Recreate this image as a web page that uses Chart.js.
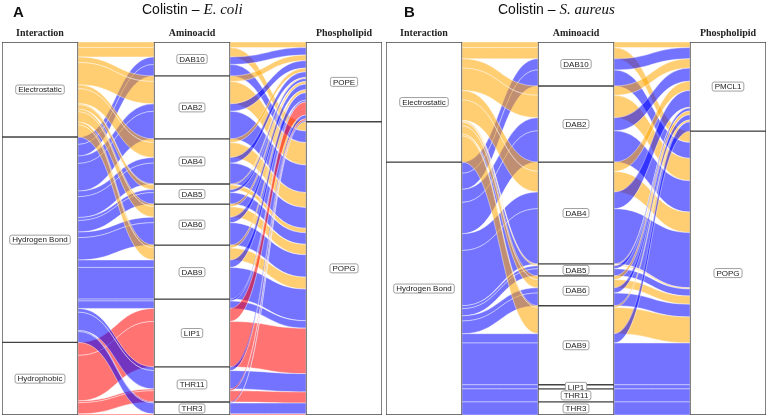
<!DOCTYPE html>
<html>
<head>
<meta charset="utf-8">
<title>Colistin alluvial</title>
<script src="https://cdn.jsdelivr.net/npm/chart.js@4.4.1/dist/chart.umd.min.js"></script>
<style>
  html, body { margin: 0; padding: 0; background: #fff; }
  #wrap { position: relative; width: 768px; height: 418px; overflow: hidden; }
  .panel { position: absolute; top: 0; width: 384px; height: 418px; }
  .letter { position: absolute; top: 3px; font: bold 15px "Liberation Sans", Arial, sans-serif; color: #111; }
  .title { position: absolute; top: 1px; font: 14px "Liberation Sans", Arial, sans-serif; color: #111; white-space: nowrap; }
  .title i { font-family: "Liberation Serif", "Times New Roman", serif; font-size: 15px; }
</style>
</head>
<body>
<div id="wrap">
  <div class="panel" style="left:0"><canvas id="chartA"></canvas></div>
  <div class="panel" style="left:384px"><canvas id="chartB"></canvas></div>
  <div class="letter" style="left:13px">A</div>
  <div class="title" style="left:142px">Colistin – <i>E. coli</i></div>
  <div class="letter" style="left:404px">B</div>
  <div class="title" style="left:498px">Colistin – <i>S. aureus</i></div>
</div>
<script>
const axisNames = ['Interaction', 'Aminoacid', 'Phospholipid'];

// Panel A - E. coli
const ecoliInteractions = ['Electrostatic', 'Hydrogen Bond', 'Hydrophobic'];
const ecoliAminoacids = ['DAB10', 'DAB2', 'DAB4', 'DAB5', 'DAB6', 'DAB9', 'LIP1', 'THR11', 'THR3'];
const ecoliLipids = ['POPE', 'POPG'];
// [interaction, aminoacid, phospholipid, share %]
const ecoliFlows = [
  ['Electrostatic', 'DAB10', 'POPE', 1.5], ['Electrostatic', 'DAB10', 'POPG', 2.5],
  ['Hydrogen Bond', 'DAB10', 'POPE', 2.0], ['Hydrogen Bond', 'DAB10', 'POPG', 3.1],
  ['Electrostatic', 'DAB2', 'POPE', 1.5], ['Electrostatic', 'DAB2', 'POPG', 6.0],
  ['Hydrogen Bond', 'DAB2', 'POPE', 2.0], ['Hydrogen Bond', 'DAB2', 'POPG', 7.4],
  ['Electrostatic', 'DAB4', 'POPE', 1.0], ['Electrostatic', 'DAB4', 'POPG', 4.0],
  ['Hydrogen Bond', 'DAB4', 'POPE', 1.5], ['Hydrogen Bond', 'DAB4', 'POPG', 5.6],
  ['Electrostatic', 'DAB5', 'POPE', 0.3], ['Electrostatic', 'DAB5', 'POPG', 1.2],
  ['Hydrogen Bond', 'DAB5', 'POPE', 0.8], ['Hydrogen Bond', 'DAB5', 'POPG', 3.1],
  ['Electrostatic', 'DAB6', 'POPE', 0.7], ['Electrostatic', 'DAB6', 'POPG', 2.8],
  ['Hydrogen Bond', 'DAB6', 'POPE', 1.5], ['Hydrogen Bond', 'DAB6', 'POPG', 6.0],
  ['Electrostatic', 'DAB9', 'POPE', 0.8], ['Electrostatic', 'DAB9', 'POPG', 3.2],
  ['Hydrogen Bond', 'DAB9', 'POPE', 2.0], ['Hydrogen Bond', 'DAB9', 'POPG', 8.5],
  ['Hydrogen Bond', 'LIP1', 'POPE', 0.5], ['Hydrogen Bond', 'LIP1', 'POPG', 2.0],
  ['Hydrophobic', 'LIP1', 'POPE', 3.5], ['Hydrophobic', 'LIP1', 'POPG', 12.2],
  ['Hydrogen Bond', 'THR11', 'POPE', 1.0], ['Hydrogen Bond', 'THR11', 'POPG', 4.9],
  ['Hydrophobic', 'THR11', 'POPE', 0.5], ['Hydrophobic', 'THR11', 'POPG', 3.0],
  ['Hydrogen Bond', 'THR3', 'POPE', 0.3], ['Hydrogen Bond', 'THR3', 'POPG', 2.9],
  ['Hydrophobic', 'THR3', 'POPG', 0.3]
];

// Panel B - S. aureus
const saureusInteractions = ['Electrostatic', 'Hydrogen Bond'];
const saureusAminoacids = ['DAB10', 'DAB2', 'DAB4', 'DAB5', 'DAB6', 'DAB9', 'LIP1', 'THR11', 'THR3'];
const saureusLipids = ['PMCL1', 'POPG'];
const saureusFlows = [
  ['Electrostatic', 'DAB10', 'PMCL1', 1.5], ['Electrostatic', 'DAB10', 'POPG', 3.0],
  ['Hydrogen Bond', 'DAB10', 'PMCL1', 3.0], ['Hydrogen Bond', 'DAB10', 'POPG', 4.3],
  ['Electrostatic', 'DAB2', 'PMCL1', 2.5], ['Electrostatic', 'DAB2', 'POPG', 6.0],
  ['Hydrogen Bond', 'DAB2', 'PMCL1', 3.5], ['Hydrogen Bond', 'DAB2', 'POPG', 8.4],
  ['Electrostatic', 'DAB4', 'PMCL1', 2.5], ['Electrostatic', 'DAB4', 'POPG', 5.5],
  ['Hydrogen Bond', 'DAB4', 'PMCL1', 4.5], ['Hydrogen Bond', 'DAB4', 'POPG', 14.8],
  ['Electrostatic', 'DAB5', 'PMCL1', 0.2], ['Electrostatic', 'DAB5', 'POPG', 0.3],
  ['Hydrogen Bond', 'DAB5', 'PMCL1', 0.8], ['Hydrogen Bond', 'DAB5', 'POPG', 1.9],
  ['Electrostatic', 'DAB6', 'PMCL1', 1.0], ['Electrostatic', 'DAB6', 'POPG', 2.2],
  ['Hydrogen Bond', 'DAB6', 'PMCL1', 1.4], ['Hydrogen Bond', 'DAB6', 'POPG', 3.4],
  ['Electrostatic', 'DAB9', 'PMCL1', 0.5], ['Electrostatic', 'DAB9', 'POPG', 7.0],
  ['Hydrogen Bond', 'DAB9', 'PMCL1', 2.5], ['Hydrogen Bond', 'DAB9', 'POPG', 11.2],
  ['Hydrogen Bond', 'LIP1', 'POPG', 1.1],
  ['Hydrogen Bond', 'THR11', 'POPG', 3.5],
  ['Hydrogen Bond', 'THR3', 'POPG', 3.5]
];

const interactionColors = {
  'Electrostatic': 'rgba(255,165,0,0.55)',
  'Hydrogen Bond': 'rgba(0,0,255,0.55)',
  'Hydrophobic': 'rgba(255,0,0,0.55)'
};

const BOX_W = 76;

// alluvium ribbons, drawn under the stratum boxes
const alluviaPlugin = {
  id: 'alluvia',
  beforeDatasetsDraw(chart, args, opts) {
    const { ctx, scales: { x, y } } = chart;
    const levels = opts.levels;
    const flows = opts.flows;
    const idx = (a, name) => levels[a].indexOf(name);
    // zigzag lode ordering: nearest other axis first
    const order = [[1, 2], [0, 2], [1, 0]];
    const pos = flows.map(() => [0, 0, 0]);
    for (let a = 0; a < 3; a++) {
      let start = 0;
      levels[a].forEach(name => {
        const members = flows.map((f, i) => i).filter(i => flows[i][a] === name);
        members.sort((i, j) => {
          for (const o of order[a]) {
            const d = idx(o, flows[i][o]) - idx(o, flows[j][o]);
            if (d) return d;
          }
          return 0;
        });
        members.forEach(i => { pos[i][a] = start; start += flows[i][3]; });
      });
    }
    ctx.save();
    flows.forEach((f, i) => {
      for (let a = 0; a < 2; a++) {
        const x0 = x.getPixelForValue(a) + BOX_W / 2;
        const x1 = x.getPixelForValue(a + 1) - BOX_W / 2;
        const xm = (x0 + x1) / 2;
        const t0 = y.getPixelForValue(pos[i][a]);
        const b0 = y.getPixelForValue(pos[i][a] + f[3]);
        const t1 = y.getPixelForValue(pos[i][a + 1]);
        const b1 = y.getPixelForValue(pos[i][a + 1] + f[3]);
        ctx.beginPath();
        ctx.moveTo(x0, t0);
        ctx.bezierCurveTo(xm, t0, xm, t1, x1, t1);
        ctx.lineTo(x1, b1);
        ctx.bezierCurveTo(xm, b1, xm, b0, x0, b0);
        ctx.closePath();
        ctx.fillStyle = interactionColors[f[0]];
        ctx.fill();
        ctx.lineWidth = 0.6;
        ctx.strokeStyle = 'rgba(255,255,255,0.7)';
        ctx.stroke();
      }
    });
    ctx.restore();
  },
  afterDatasetsDraw(chart) {
    const { ctx } = chart;
    ctx.save();
    ctx.font = '8px "Liberation Sans", Arial, sans-serif';
    ctx.textAlign = 'center';
    ctx.textBaseline = 'middle';
    chart.data.datasets.forEach((ds, di) => {
      const bar = chart.getDatasetMeta(di).data[0];
      if (!bar) return;
      const cy = (bar.y + bar.base) / 2;
      const w = ctx.measureText(ds.label).width + 5;
      const h = 9;
      ctx.beginPath();
      ctx.roundRect(bar.x - w / 2, cy - h / 2, w, h, 2);
      ctx.fillStyle = '#fff';
      ctx.fill();
      ctx.lineWidth = 0.8;
      ctx.strokeStyle = '#888';
      ctx.stroke();
      ctx.fillStyle = '#222';
      ctx.fillText(ds.label, bar.x, cy + 0.5);
    });
    ctx.restore();
  }
};

function makeChart(id, interactions, aminoacids, lipids, flows) {
  const levels = [interactions, aminoacids, lipids];
  const total = flows.reduce((s, f) => s + f[3], 0);
  const datasets = [];
  levels.forEach((names, a) => {
    names.forEach(name => {
      const v = flows.filter(f => f[a] === name).reduce((s, f) => s + f[3], 0);
      datasets.push({
        label: name,
        data: [{ x: a, y: v }],
        backgroundColor: '#fff',
        borderColor: '#444',
        borderWidth: 1,
        borderSkipped: false,
        barThickness: BOX_W
      });
    });
  });
  new Chart(document.getElementById(id), {
    type: 'bar',
    data: { datasets },
    options: {
      responsive: true,
      maintainAspectRatio: false,
      animation: false,
      layout: { padding: { top: 24, left: 2, right: 2, bottom: 3 } },
      plugins: {
        legend: { display: false },
        tooltip: { enabled: false },
        alluvia: { levels, flows }
      },
      scales: {
        x: {
          type: 'linear', min: -0.25, max: 2.25, position: 'top', stacked: true, offset: false,
          grid: { display: false, drawTicks: false },
          border: { display: false },
          afterBuildTicks: s => { s.ticks = [0, 1, 2].map(v => ({ value: v })); },
          ticks: {
            callback: v => axisNames[v],
            font: { family: '"Liberation Serif", "Times New Roman", serif', weight: 'bold', size: 10 },
            color: '#222', padding: 3, maxRotation: 0, autoSkip: false
          }
        },
        y: { type: 'linear', stacked: true, reverse: true, min: 0, max: total, display: false }
      }
    },
    plugins: [alluviaPlugin]
  });
}

makeChart('chartA', ecoliInteractions, ecoliAminoacids, ecoliLipids, ecoliFlows);
makeChart('chartB', saureusInteractions, saureusAminoacids, saureusLipids, saureusFlows);
</script>
</body>
</html>
